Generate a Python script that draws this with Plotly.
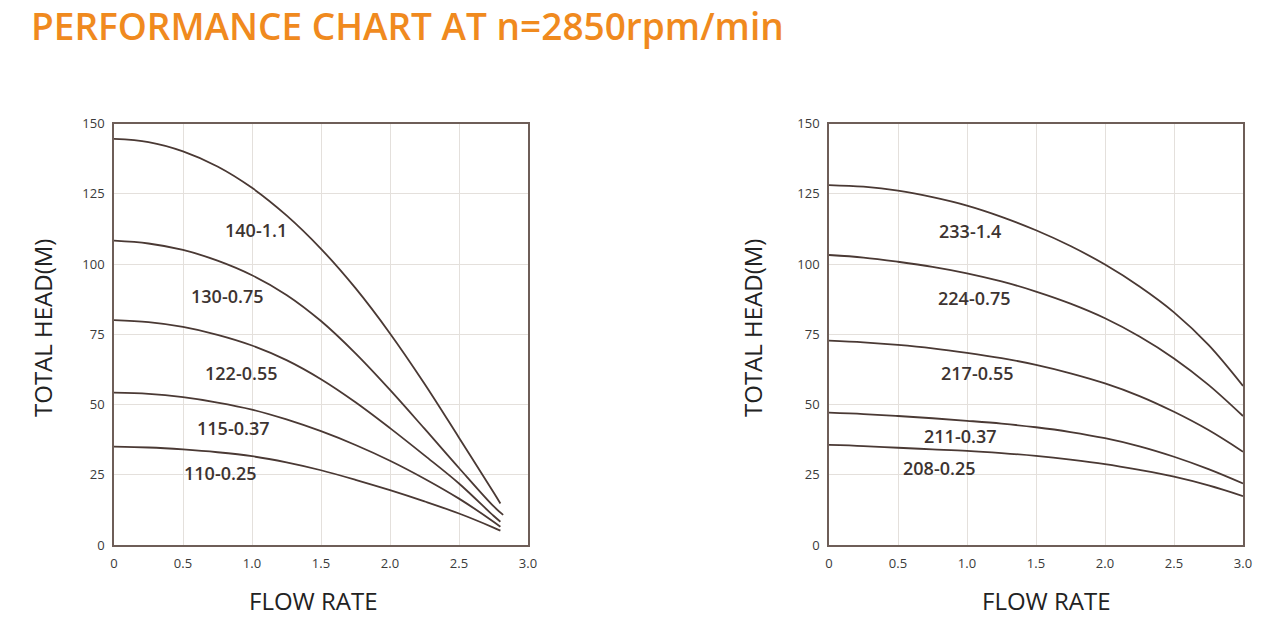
import plotly.graph_objects as go

# ---------------- data ----------------
title_text = "PERFORMANCE CHART AT n=2850rpm/min"

# left chart (flow rate, head in m)
left_names = ["140-1.1", "130-0.75", "122-0.55", "115-0.37", "110-0.25"]
left_flow_base = [0, 0.25, 0.5, 0.75, 1.0, 1.25, 1.5, 1.75, 2.0, 2.25, 2.5, 2.75]
left_flow_end = {"140-1.1": 2.8, "130-0.75": 2.82, "122-0.55": 2.8, "115-0.37": 2.8, "110-0.25": 2.8}
left_head = {
    "140-1.1":  [144.5, 143.4, 140.1, 134.7, 127.1, 117.3, 105.4, 91.4, 75.3, 57.4, 38.2, 18.8, 14.8],
    "130-0.75": [108.3, 107.3, 105.0, 101.2, 96.0, 89.0, 79.7, 68.2, 55.2, 41.4, 27.4, 13.8, 10.7],
    "122-0.55": [80.0, 79.3, 77.6, 74.8, 71.0, 65.8, 59.0, 50.8, 41.6, 31.9, 21.9, 10.4, 8.3],
    "115-0.37": [54.2, 53.8, 52.6, 50.7, 48.2, 44.7, 40.5, 35.6, 30.0, 23.6, 16.5, 8.3, 6.5],
    "110-0.25": [35.0, 34.7, 34.0, 33.0, 31.6, 29.4, 26.6, 23.2, 19.5, 15.5, 11.2, 6.2, 5.1],
}
left_label_x = [1.03, 0.82, 0.92, 0.86, 0.77]
left_label_y = [112.0, 88.6, 61.3, 41.5, 25.7]

# right chart
right_names = ["233-1.4", "224-0.75", "217-0.55", "211-0.37", "208-0.25"]
right_flow = [0, 0.25, 0.5, 0.75, 1.0, 1.25, 1.5, 1.75, 2.0, 2.25, 2.5, 2.75, 3.0]
right_head = {
    "233-1.4":  [128.1, 127.5, 126.1, 123.8, 120.8, 116.8, 112.0, 106.4, 99.8, 92.0, 82.8, 71.2, 56.6],
    "224-0.75": [103.2, 102.3, 100.8, 99.0, 96.7, 93.8, 90.2, 85.9, 80.7, 74.2, 66.4, 57.0, 45.9],
    "217-0.55": [72.7, 72.1, 71.2, 70.0, 68.4, 66.5, 64.1, 61.1, 57.5, 53.0, 47.4, 40.9, 33.2],
    "211-0.37": [47.1, 46.6, 45.9, 45.1, 44.2, 43.2, 41.9, 40.2, 38.0, 35.1, 31.4, 27.0, 21.9],
    "208-0.25": [35.6, 35.2, 34.6, 34.05, 33.5, 32.7, 31.7, 30.4, 28.8, 26.7, 24.3, 21.2, 17.4],
}
right_label_x = [1.02, 1.05, 1.07, 0.95, 0.80]
right_label_y = [111.9, 87.8, 61.3, 38.8, 27.5]

x_ticks = [0, 0.5, 1.0, 1.5, 2.0, 2.5, 3.0]
x_tick_text = ["0", "0.5", "1.0", "1.5", "2.0", "2.5", "3.0"]
y_ticks = [0, 25, 50, 75, 100, 125, 150]
y_tick_text = ["0", "25", "50", "75", "100", "125", "150"]

x_title = "FLOW RATE"
y_title = "TOTAL HEAD(M)"

# ---------------- style ----------------
LINE = "#4a3934"
FRAME = "#6e5e58"
GRID = "#e4e0dc"
TICK = "#3a3a3a"
LABEL = "#3d3431"
ORANGE = "#F08A1E"
FONT = "Open Sans"

fig = go.Figure()

for name in left_names:
    xs = left_flow_base + [left_flow_end[name]]
    fig.add_trace(go.Scatter(x=xs, y=left_head[name], mode="lines",
                             line=dict(color=LINE, width=1.8, shape="spline", smoothing=1.0),
                             xaxis="x", yaxis="y", showlegend=False, hoverinfo="skip"))
for name in right_names:
    fig.add_trace(go.Scatter(x=right_flow, y=right_head[name], mode="lines",
                             line=dict(color=LINE, width=1.8, shape="spline", smoothing=1.0),
                             xaxis="x2", yaxis="y2", showlegend=False, hoverinfo="skip"))

annotations = []
for n, lx, ly in zip(left_names, left_label_x, left_label_y):
    annotations.append(dict(x=lx, y=ly, xref="x", yref="y", text=n, showarrow=False,
                            font=dict(family=FONT, size=18, color=LABEL, weight=600)))
for n, lx, ly in zip(right_names, right_label_x, right_label_y):
    annotations.append(dict(x=lx, y=ly, xref="x2", yref="y2", text=n, showarrow=False,
                            font=dict(family=FONT, size=18, color=LABEL, weight=600)))

W, H = 1268, 627

# title
annotations.append(dict(x=29 / W, y=1 - 26 / H, xref="paper", yref="paper",
                        xanchor="left", yanchor="middle", text=title_text, showarrow=False,
                        font=dict(family=FONT, size=37, color=ORANGE, weight=600)))

left_dom = [114 / W, 528 / W]
right_dom = [829 / W, 1243 / W]
y_dom = [1 - 545 / H, 1 - 123.5 / H]

# axis titles
for cx in (313, 1046):
    annotations.append(dict(x=cx / W, y=1 - 600 / H, xref="paper", yref="paper",
                            text=x_title, showarrow=False, xanchor="center", yanchor="middle",
                            font=dict(family=FONT, size=24, color="#222222")))
for cx in (42, 752):
    annotations.append(dict(x=cx / W, y=1 - 328 / H, xref="paper", yref="paper",
                            text=y_title, showarrow=False, textangle=-90, xanchor="center",
                            yanchor="middle", font=dict(family=FONT, size=24, color="#222222")))

xaxis_common = dict(range=[0, 3], tickvals=x_ticks, ticktext=x_tick_text, showgrid=True,
                    gridcolor=GRID, gridwidth=1.2, zeroline=False, showline=True, linecolor=FRAME,
                    linewidth=1.6, mirror=True, ticks="", ticklabelstandoff=6,
                    tickfont=dict(family=FONT, size=13, color=TICK), fixedrange=True)
yaxis_common = dict(range=[0, 150], tickvals=y_ticks, ticktext=y_tick_text, showgrid=True,
                    gridcolor=GRID, gridwidth=1.2, zeroline=False, showline=True, linecolor=FRAME,
                    linewidth=1.6, mirror=True, ticks="", ticklabelstandoff=5,
                    tickfont=dict(family=FONT, size=13, color=TICK), fixedrange=True)

fig.update_layout(
    width=W, height=H,
    margin=dict(l=0, r=0, t=0, b=0, pad=0, autoexpand=False),
    paper_bgcolor="white", plot_bgcolor="white",
    xaxis=dict(domain=left_dom, anchor="y", automargin=False, **xaxis_common),
    yaxis=dict(domain=y_dom, anchor="x", automargin=False, **yaxis_common),
    xaxis2=dict(domain=right_dom, anchor="y2", automargin=False, **xaxis_common),
    yaxis2=dict(domain=y_dom, anchor="x2", automargin=False, **yaxis_common),
    annotations=annotations,
)

fig.write_html("out.html", config={"displayModeBar": False},
               post_script="document.body.style.margin='0';document.body.style.overflow='hidden';")
